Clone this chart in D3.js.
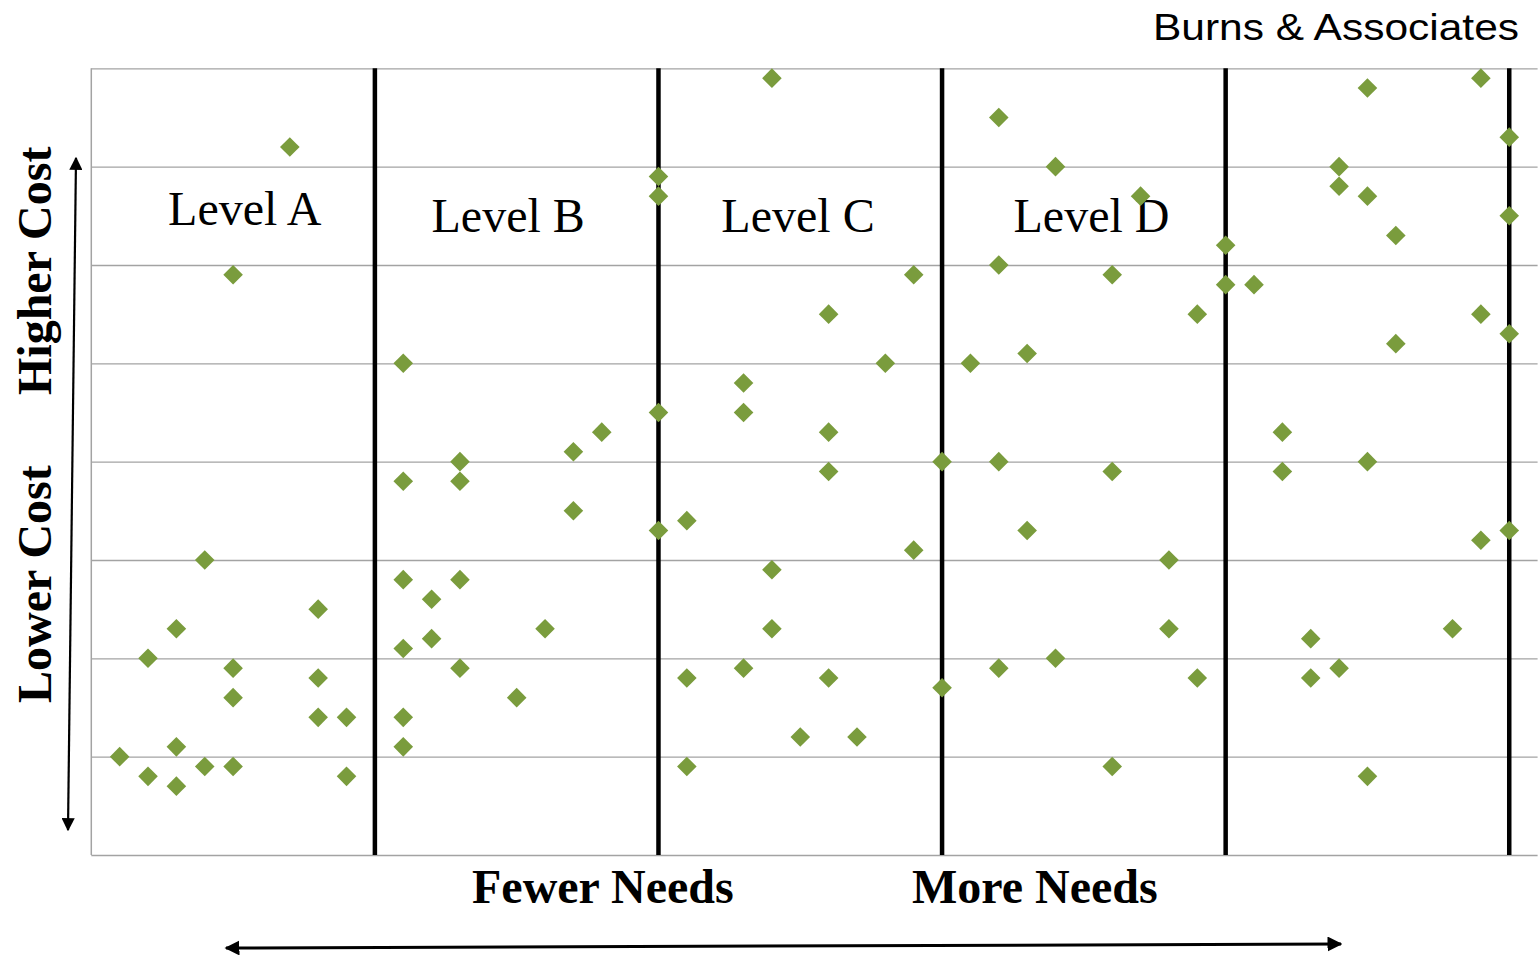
<!DOCTYPE html>
<html><head><meta charset="utf-8">
<script src="https://cdn.jsdelivr.net/npm/d3@7"></script>
<style>body{margin:0;background:#fff;} svg{display:block}</style>
</head><body>
<svg id="c" width="1539" height="956"></svg>
<script>
// ---- data (x = needs score, y = cost score) ----
const levelA = [[0.1,1.0],[0.2,0.8],[0.2,2.0],[0.3,0.7],[0.3,1.1],[0.3,2.3],[0.4,0.9],[0.4,3.0],[0.5,0.9],[0.5,1.6],[0.5,1.9],[0.5,5.9],[0.7,7.2],[0.8,1.4],[0.8,1.8],[0.8,2.5],[0.9,0.8],[0.9,1.4]];
const levelB = [[1.1,5.0],[1.1,3.8],[1.1,2.8],[1.1,2.1],[1.1,1.4],[1.1,1.1],[1.2,2.6],[1.2,2.2],[1.3,4.0],[1.3,3.8],[1.3,2.8],[1.3,1.9],[1.5,1.6],[1.6,2.3],[1.7,4.1],[1.7,3.5],[1.8,4.3],[2.0,6.9],[2.0,6.7],[2.0,4.5],[2.0,3.3]];
const levelC = [[2.1,3.4],[2.1,1.8],[2.1,0.9],[2.3,4.8],[2.3,4.5],[2.3,1.9],[2.4,7.9],[2.4,2.9],[2.4,2.3],[2.5,1.2],[2.6,5.5],[2.6,4.3],[2.6,3.9],[2.6,1.8],[2.7,1.2],[2.8,5.0],[2.9,5.9],[2.9,3.1],[3.0,4.0],[3.0,1.7]];
const levelD = [[3.1,5.0],[3.2,7.5],[3.2,6.0],[3.2,4.0],[3.2,1.9],[3.3,5.1],[3.3,3.3],[3.4,7.0],[3.4,2.0],[3.6,5.9],[3.6,3.9],[3.6,0.9],[3.7,6.7],[3.8,3.0],[3.8,2.3],[3.9,5.5],[3.9,1.8],[4.0,6.2],[4.0,5.8]];
const levelE = [[4.1,5.8],[4.2,4.3],[4.2,3.9],[4.3,2.2],[4.3,1.8],[4.4,7.0],[4.4,6.8],[4.4,1.9],[4.5,7.8],[4.5,6.7],[4.5,4.0],[4.5,0.8],[4.6,6.3],[4.6,5.2],[4.8,2.3],[4.9,7.9],[4.9,5.5],[4.9,3.2],[5.0,7.3],[5.0,6.5],[5.0,5.3],[5.0,3.3]];
const dividers = [1,2,3,4,5];
const levelLabels = ["Level A","Level B","Level C","Level D"];
const yTicks = [0,1,2,3,4,5,6,7,8];
const title = "Burns & Associates";
const yLabels = ["Lower Cost","Higher Cost"];
const xLabels = ["Fewer Needs","More Needs"];

// ---- layout ----
const svg = d3.select("#c");
const x = d3.scaleLinear().domain([0,5.1]).range([91.3,1537.6]);
const y = d3.scaleLinear().domain([0,8]).range([855,68.3]);
const GREEN = "#7a9c3d";
const serif = "'Liberation Serif','Times New Roman',serif";

// gridlines
const grid = svg.append("g").attr("transform",`translate(${x(0)},0)`)
  .call(d3.axisLeft(y).tickValues(yTicks).tickFormat("").tickSize(-(x.range()[1]-x(0))));
grid.select(".domain").remove();
grid.selectAll(".tick line").attr("stroke","#a3a3a3").attr("stroke-width",1.3);
// left border
svg.append("line").attr("x1",x(0)).attr("x2",x(0)).attr("y1",y(8)).attr("y2",y(0))
  .attr("stroke","#a3a3a3").attr("stroke-width",1.5);

// dividers
svg.append("g").selectAll("line").data(dividers).join("line")
  .attr("x1",d=>x(d)).attr("x2",d=>x(d)).attr("y1",y(8)).attr("y2",y(0))
  .attr("stroke","#000").attr("stroke-width",4.5);

// level labels
const labelPos = [[0.541,6.41],[1.47,6.34],[2.492,6.34],[3.527,6.34]];
svg.append("g").selectAll("text").data(levelLabels).join("text")
  .attr("x",(d,i)=>x(labelPos[i][0])).attr("y",(d,i)=>y(labelPos[i][1]))
  .attr("text-anchor","middle").attr("font-family",serif).attr("font-size",48)
  .attr("fill","#000").text(d=>d);

// points
const all = [].concat(levelA,levelB,levelC,levelD,levelE);
const diamond = d3.symbol(d3.symbolSquare, 192);
svg.append("g").selectAll("path").data(all).join("path")
  .attr("d",diamond)
  .attr("transform",d=>`translate(${x(d[0])},${y(d[1])}) rotate(45)`)
  .attr("fill",GREEN);

// title
svg.append("text").attr("x",1519).attr("y",40).attr("text-anchor","end")
  .attr("font-family","'Liberation Sans',Arial,sans-serif").attr("font-size",37)
  .attr("textLength",366).attr("lengthAdjust","spacingAndGlyphs")
  .attr("fill","#000").text(title);

// axis labels
svg.append("text").attr("transform","translate(51,703) rotate(-90)")
  .attr("font-family",serif).attr("font-weight","bold").attr("font-size",48).text(yLabels[0]);
svg.append("text").attr("transform","translate(51,395) rotate(-90)")
  .attr("font-family",serif).attr("font-weight","bold").attr("font-size",48).text(yLabels[1]);
svg.append("text").attr("x",472).attr("y",903)
  .attr("font-family",serif).attr("font-weight","bold").attr("font-size",48).text(xLabels[0]);
svg.append("text").attr("x",912).attr("y",903)
  .attr("font-family",serif).attr("font-weight","bold").attr("font-size",48).text(xLabels[1]);

// arrows
const defs = svg.append("defs");
defs.append("marker").attr("id","ah").attr("viewBox","0 0 10 10").attr("refX",9).attr("refY",5)
  .attr("markerWidth",5).attr("markerHeight",5).attr("markerUnits","strokeWidth")
  .attr("orient","auto-start-reverse")
  .append("path").attr("d","M0,0 L10,5 L0,10 z").attr("fill","#000");
defs.append("marker").attr("id","ah2").attr("viewBox","0 0 10 10").attr("refX",9).attr("refY",5)
  .attr("markerWidth",6).attr("markerHeight",6).attr("markerUnits","strokeWidth")
  .attr("orient","auto-start-reverse")
  .append("path").attr("d","M0,0 L10,5 L0,10 z").attr("fill","#000");
svg.append("line").attr("x1",76).attr("y1",158).attr("x2",68).attr("y2",830)
  .attr("stroke","#000").attr("stroke-width",2.2)
  .attr("marker-start","url(#ah2)").attr("marker-end","url(#ah2)");
svg.append("line").attr("x1",226).attr("y1",948).attr("x2",1341).attr("y2",944)
  .attr("stroke","#000").attr("stroke-width",3)
  .attr("marker-start","url(#ah)").attr("marker-end","url(#ah)");
</script>
</body></html>
